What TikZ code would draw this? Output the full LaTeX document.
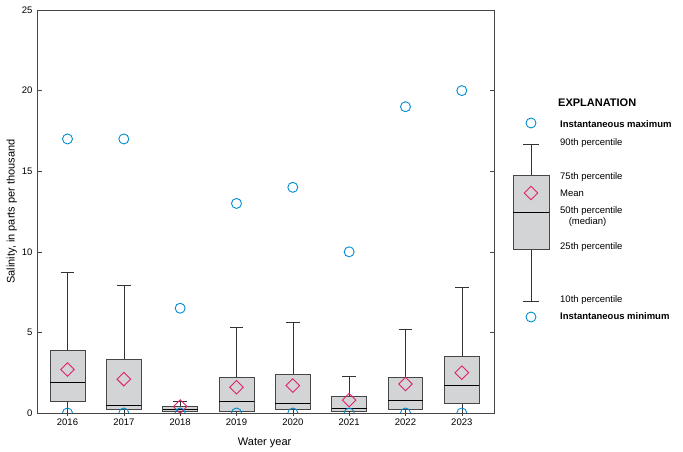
\documentclass[tikz,border=0pt]{standalone}
\usepackage{fontspec}
\setmainfont{Liberation Sans}
\usetikzlibrary{shapes.geometric,positioning}
\definecolor{boxgray}{RGB}{211,212,214}
\definecolor{edgegray}{RGB}{70,70,70}
\definecolor{meanpink}{RGB}{226,30,110}
\definecolor{circblue}{RGB}{0,140,210}
\tikzset{
  frame/.style={draw=edgegray,line width=0.7pt},
  pbox/.style={draw=edgegray,fill=boxgray,line width=0.9pt},
  whisk/.style={draw=black!80,line width=0.6pt},
  med/.style={draw=black,line width=0.8pt},
  meanmark/.style={diamond,draw=meanpink,line width=0.9pt,minimum size=14pt,inner sep=0pt},
  extmark/.style={circle,draw=circblue,line width=0.9pt,minimum size=10pt,inner sep=0pt},
  lbl/.style={font=\fontsize{9.5}{11}\selectfont,inner sep=1pt},
  blbl/.style={font=\fontsize{9.5}{11}\selectfont\bfseries,inner sep=1pt}
}
% year: q10 q25 median q75 q90 mean max
\newcommand{\yearbox}[8]{%
  \draw[whisk] (#1,#2) -- (#1,#3) (#1,#5) -- (#1,#6) (#1-0.12,#6) -- (#1+0.12,#6);
  \draw[pbox] (#1-0.31,#3) rectangle (#1+0.31,#5);
  \draw[med] (#1-0.31,#4) -- (#1+0.31,#4);
  \node[meanmark] (mean#1) at (#1,#7) {};
  \node[extmark] (max#1) at (#1,#8) {};
  \begin{scope}
    \clip (-0.6,0) rectangle (7.6,25);
    \node[extmark] (min#1) at (#1,0) {};
  \end{scope}
}
\begin{document}
\begin{tikzpicture}[x=1pt,y=1pt]
\useasboundingbox (0,0) rectangle (683,-452);
\begin{scope}[shift={(67.5,-413)},x=56.33pt,y=16.12pt]
  \yearbox{0}{0}{0.7}{1.9}{3.9}{8.7}{2.7}{17}
  \yearbox{1}{0}{0.2}{0.5}{3.3}{7.9}{2.1}{17}
  \yearbox{2}{0}{0.1}{0.2}{0.4}{0.7}{0.4}{6.5}
  \yearbox{3}{0}{0.1}{0.7}{2.2}{5.3}{1.6}{13}
  \yearbox{4}{0}{0.2}{0.6}{2.4}{5.6}{1.7}{14}
  \yearbox{5}{0}{0.1}{0.3}{1.0}{2.3}{0.8}{10}
  \yearbox{6}{0}{0.2}{0.8}{2.2}{5.2}{1.8}{19}
  \yearbox{7}{0}{0.6}{1.7}{3.5}{7.8}{2.5}{20}
  \draw[frame] (-0.53,0) rectangle (7.57,25);
  \foreach \v in {0,5,...,25} {
    \draw[frame,line width=0.5pt] (-0.53,\v) -- ++(4pt,0) (7.57,\v) -- ++(-4pt,0);
    \node[lbl,left=4pt] (ylab\v) at (-0.53,\v) {\v};
  }
  \foreach \i/\yr in {0/2016,1/2017,2/2018,3/2019,4/2020,5/2021,6/2022,7/2023} {
    \draw[frame,line width=0.5pt] (\i,0) -- ++(0,-3pt);
    \node[lbl,below=5pt] (xlab\i) at (\i,0) {\yr};
  }
  \node[lbl,font=\fontsize{11}{12}\selectfont] (xtitle) at (3.5,-1.85) {Water year};
  \node[lbl,font=\fontsize{11}{12}\selectfont,rotate=90] (ytitle) at (-0.99,12.5) {Salinity, in parts per thousand};
\end{scope}
% explanation
\node[blbl,font=\fontsize{11}{12}\selectfont\bfseries,anchor=west] (expl) at (557,-103) {EXPLANATION};
\node[extmark] (lmax) at (531,-123) {};
\node[extmark] (lmin) at (531,-317) {};
\draw[whisk] (531,-144) -- (531,-175) (531,-249) -- (531,-301) (523,-144) -- (539,-144) (523,-301) -- (539,-301);
\draw[pbox] (513,-175) rectangle (549,-249);
\draw[med] (513,-212) -- (549,-212);
\node[meanmark] (lmean) at (531,-193) {};
\node[blbl,anchor=west] (tmax) at (559,-124) {Instantaneous maximum};
\node[lbl,anchor=west] (t90) at (559,-143) {90th percentile};
\node[lbl,anchor=west] (t75) at (559,-177) {75th percentile};
\node[lbl,anchor=west] (tmean) at (559,-193) {Mean};
\node[lbl,anchor=west,align=left] (t50) at (559,-217) {50th percentile\\\hspace{0.9em}(median)};
\node[lbl,anchor=west] (t25) at (559,-247) {25th percentile};
\node[lbl,anchor=west] (t10) at (559,-300) {10th percentile};
\node[blbl,anchor=west] (tmin) at (559,-316) {Instantaneous minimum};
\end{tikzpicture}
\end{document}
